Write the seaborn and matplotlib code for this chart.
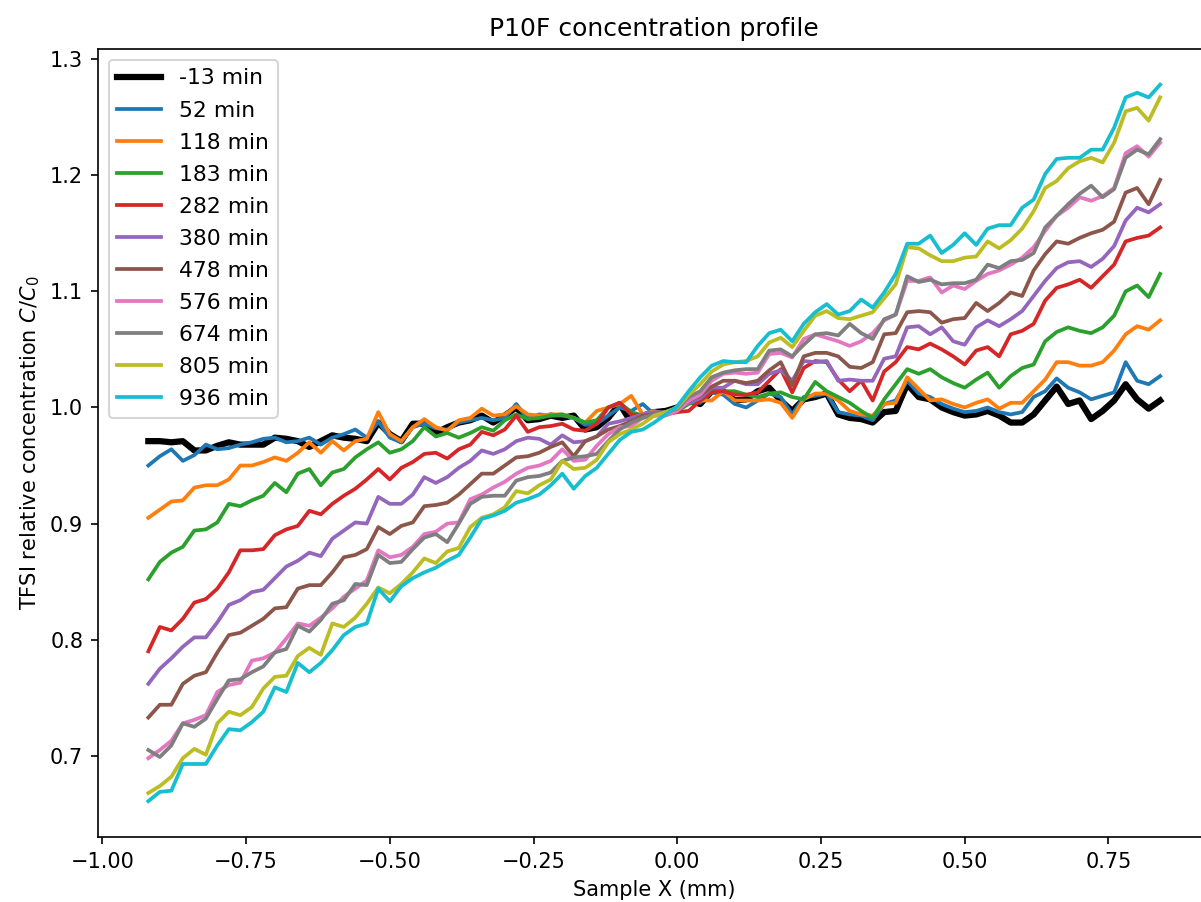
import numpy as np
import pandas as pd
import matplotlib
matplotlib.use("Agg")
import matplotlib.pyplot as plt
import seaborn as sns

# Sample positions (mm)
x_mm = np.linspace(-0.92, 0.84, 89)

labels = ["-13 min", "52 min", "118 min", "183 min", "282 min", "380 min",
          "478 min", "576 min", "674 min", "805 min", "936 min"]

s_m13 = [0.971, 0.971, 0.970, 0.971, 0.963, 0.963, 0.967, 0.970, 0.968, 0.968, 0.968, 0.974, 0.973,
         0.971, 0.966, 0.971, 0.976, 0.974, 0.973, 0.971, 0.987, 0.977, 0.971, 0.986, 0.986, 0.978,
         0.983, 0.987, 0.989, 0.993, 0.987, 0.993, 1.000, 0.989, 0.990, 0.993, 0.991, 0.993, 0.981, 0.983,
         0.991, 1.003, 0.987, 0.993, 0.996, 0.997, 1.000, 1.006, 1.003, 1.014, 1.014, 1.006, 1.007, 1.014,
         1.017, 1.006, 0.997, 1.007, 1.009, 1.012, 0.994, 0.991, 0.990, 0.987, 0.996, 0.997, 1.020, 1.009, 1.007,
         1.000, 0.996, 0.993, 0.994, 0.997, 0.993, 0.987, 0.987, 0.994, 1.006,
         1.018, 1.003, 1.006, 0.990, 0.997, 1.006, 1.020, 1.007, 0.999, 1.006]
s_52 = [0.950, 0.958, 0.964, 0.954, 0.959, 0.968, 0.964, 0.965, 0.968, 0.970, 0.973, 0.974, 0.970,
        0.971, 0.974, 0.968, 0.974, 0.977, 0.981, 0.974, 0.988, 0.974, 0.970, 0.983, 0.986, 0.982,
        0.981, 0.987, 0.989, 0.991, 0.989, 0.991, 1.003, 0.990, 0.994, 0.993, 0.993, 0.991, 0.985, 0.986,
        0.993, 1.000, 0.997, 1.003, 0.994, 0.996, 1.000, 1.006, 1.004, 1.013, 1.011, 1.003, 1.000, 1.006,
        1.012, 1.009, 0.994, 1.009, 1.010, 1.012, 0.996, 0.994, 0.993, 0.989, 1.003, 1.006, 1.023, 1.012, 1.009,
        1.003, 0.999, 0.996, 0.997, 1.000, 0.996, 0.994, 0.996, 1.009, 1.014,
        1.025, 1.017, 1.013, 1.007, 1.010, 1.013, 1.039, 1.023, 1.020, 1.027]
s_118 = [0.905, 0.912, 0.919, 0.920, 0.931, 0.933, 0.933, 0.938, 0.950, 0.950, 0.953, 0.957, 0.954,
         0.961, 0.970, 0.961, 0.971, 0.963, 0.971, 0.973, 0.996, 0.977, 0.971, 0.983, 0.990, 0.983,
         0.980, 0.989, 0.991, 0.999, 0.993, 0.994, 1.001, 0.994, 0.993, 0.994, 0.994, 0.991, 0.987, 0.997,
         1.000, 1.003, 1.010, 0.994, 0.997, 0.994, 0.997, 1.004, 1.006, 1.006, 1.014, 1.006, 1.006, 1.006,
         1.007, 1.004, 0.991, 1.007, 1.012, 1.012, 1.006, 0.997, 0.994, 0.993, 1.003, 1.004, 1.026, 1.016, 1.006,
         1.007, 1.003, 1.000, 1.004, 1.007, 0.999, 1.004, 1.004, 1.014, 1.024,
         1.039, 1.039, 1.036, 1.036, 1.039, 1.049, 1.063, 1.070, 1.067, 1.075]
s_183 = [0.852, 0.867, 0.875, 0.880, 0.894, 0.895, 0.901, 0.917, 0.915, 0.920, 0.924, 0.935, 0.927,
         0.943, 0.947, 0.933, 0.944, 0.947, 0.957, 0.964, 0.970, 0.961, 0.964, 0.971, 0.983, 0.975,
         0.978, 0.974, 0.978, 0.983, 0.980, 0.989, 0.994, 0.990, 0.991, 0.993, 0.994, 0.991, 0.987, 0.989,
         1.000, 1.004, 0.996, 0.993, 0.994, 0.996, 0.997, 1.003, 1.006, 1.014, 1.014, 1.014, 1.011, 1.009,
         1.012, 1.013, 1.009, 1.007, 1.022, 1.014, 1.009, 1.004, 0.997, 0.991, 1.007, 1.020, 1.033, 1.029, 1.033,
         1.026, 1.021, 1.017, 1.024, 1.030, 1.017, 1.027, 1.034, 1.037, 1.057,
         1.065, 1.069, 1.066, 1.064, 1.069, 1.079, 1.100, 1.105, 1.095, 1.115]
s_282 = [0.790, 0.811, 0.808, 0.818, 0.832, 0.835, 0.844, 0.858, 0.877, 0.877, 0.878, 0.890, 0.895,
         0.898, 0.911, 0.908, 0.917, 0.924, 0.930, 0.938, 0.947, 0.938, 0.948, 0.953, 0.960, 0.961,
         0.956, 0.964, 0.968, 0.979, 0.976, 0.981, 0.993, 0.979, 0.983, 0.984, 0.986, 0.981, 0.980, 0.986,
         1.000, 1.004, 0.994, 0.993, 0.993, 0.994, 0.996, 0.997, 1.006, 1.013, 1.014, 1.011, 1.011, 1.013,
         1.023, 1.033, 1.013, 1.034, 1.040, 1.039, 1.024, 1.014, 1.023, 1.006, 1.031, 1.039, 1.052, 1.050, 1.055,
         1.050, 1.044, 1.037, 1.049, 1.052, 1.044, 1.063, 1.066, 1.072, 1.092,
         1.103, 1.106, 1.110, 1.103, 1.113, 1.123, 1.143, 1.146, 1.148, 1.155]
s_380 = [0.762, 0.775, 0.784, 0.794, 0.802, 0.802, 0.815, 0.830, 0.834, 0.841, 0.843, 0.853, 0.863,
         0.868, 0.875, 0.872, 0.887, 0.894, 0.901, 0.900, 0.923, 0.917, 0.917, 0.925, 0.940, 0.935,
         0.940, 0.948, 0.954, 0.963, 0.960, 0.964, 0.971, 0.974, 0.973, 0.968, 0.976, 0.970, 0.971, 0.975,
         0.986, 0.988, 0.991, 0.994, 0.996, 0.996, 0.999, 1.004, 1.008, 1.017, 1.017, 1.023, 1.020, 1.020,
         1.029, 1.032, 1.023, 1.040, 1.039, 1.040, 1.023, 1.024, 1.023, 1.023, 1.042, 1.044, 1.069, 1.070, 1.063,
         1.069, 1.057, 1.054, 1.069, 1.075, 1.070, 1.076, 1.083, 1.096, 1.109,
         1.120, 1.125, 1.126, 1.121, 1.128, 1.139, 1.161, 1.172, 1.168, 1.175]
s_478 = [0.733, 0.744, 0.744, 0.762, 0.769, 0.772, 0.789, 0.804, 0.806, 0.812, 0.818, 0.827, 0.828,
         0.844, 0.847, 0.847, 0.858, 0.871, 0.873, 0.878, 0.897, 0.891, 0.898, 0.901, 0.915, 0.916,
         0.918, 0.925, 0.934, 0.943, 0.943, 0.950, 0.957, 0.958, 0.961, 0.966, 0.970, 0.958, 0.971, 0.975,
         0.981, 0.984, 0.988, 0.993, 0.994, 0.996, 0.999, 1.006, 1.010, 1.018, 1.023, 1.023, 1.021, 1.023,
         1.032, 1.039, 1.019, 1.044, 1.047, 1.047, 1.044, 1.035, 1.034, 1.039, 1.063, 1.064, 1.082, 1.083, 1.082,
         1.073, 1.076, 1.077, 1.090, 1.083, 1.090, 1.099, 1.096, 1.118, 1.132,
         1.143, 1.141, 1.146, 1.150, 1.153, 1.160, 1.185, 1.189, 1.175, 1.196]
s_576 = [0.698, 0.705, 0.713, 0.728, 0.731, 0.735, 0.755, 0.761, 0.763, 0.782, 0.784, 0.789, 0.801,
         0.814, 0.812, 0.819, 0.827, 0.837, 0.844, 0.851, 0.877, 0.871, 0.873, 0.880, 0.891, 0.893,
         0.900, 0.901, 0.921, 0.925, 0.931, 0.936, 0.943, 0.948, 0.950, 0.954, 0.964, 0.954, 0.955, 0.967,
         0.977, 0.983, 0.984, 0.991, 0.993, 0.993, 0.997, 1.006, 1.011, 1.023, 1.029, 1.030, 1.029, 1.030,
         1.046, 1.047, 1.043, 1.059, 1.063, 1.060, 1.057, 1.053, 1.057, 1.064, 1.075, 1.080, 1.109, 1.109, 1.112,
         1.099, 1.105, 1.102, 1.109, 1.115, 1.118, 1.123, 1.129, 1.138, 1.152,
         1.165, 1.172, 1.181, 1.178, 1.182, 1.189, 1.219, 1.225, 1.216, 1.228]
s_674 = [0.705, 0.699, 0.709, 0.728, 0.725, 0.732, 0.749, 0.765, 0.766, 0.772, 0.777, 0.789, 0.792,
         0.812, 0.807, 0.817, 0.831, 0.834, 0.848, 0.847, 0.873, 0.866, 0.867, 0.878, 0.888, 0.891,
         0.884, 0.900, 0.917, 0.923, 0.924, 0.924, 0.937, 0.940, 0.941, 0.944, 0.954, 0.957, 0.958, 0.960,
         0.971, 0.981, 0.987, 0.991, 0.994, 0.996, 0.999, 1.009, 1.014, 1.026, 1.030, 1.032, 1.033, 1.033,
         1.049, 1.050, 1.044, 1.054, 1.063, 1.064, 1.062, 1.072, 1.064, 1.059, 1.076, 1.080, 1.113, 1.108, 1.110,
         1.106, 1.107, 1.107, 1.110, 1.123, 1.120, 1.126, 1.127, 1.133, 1.155,
         1.165, 1.175, 1.184, 1.191, 1.181, 1.188, 1.215, 1.222, 1.218, 1.231]
s_805 = [0.668, 0.674, 0.682, 0.698, 0.706, 0.701, 0.728, 0.738, 0.735, 0.742, 0.758, 0.768, 0.769,
         0.786, 0.793, 0.787, 0.814, 0.811, 0.819, 0.831, 0.845, 0.840, 0.848, 0.858, 0.870, 0.866,
         0.876, 0.879, 0.897, 0.905, 0.908, 0.914, 0.928, 0.926, 0.933, 0.938, 0.954, 0.947, 0.948, 0.955,
         0.970, 0.977, 0.981, 0.986, 0.993, 0.996, 1.000, 1.011, 1.020, 1.031, 1.037, 1.039, 1.040, 1.044,
         1.056, 1.060, 1.052, 1.066, 1.079, 1.083, 1.077, 1.076, 1.079, 1.082, 1.094, 1.106, 1.138, 1.137, 1.131,
         1.126, 1.126, 1.129, 1.130, 1.143, 1.137, 1.144, 1.154, 1.169, 1.189,
         1.195, 1.206, 1.212, 1.215, 1.211, 1.228, 1.255, 1.258, 1.247, 1.267]
s_936 = [0.661, 0.669, 0.670, 0.693, 0.693, 0.693, 0.709, 0.723, 0.722, 0.729, 0.738, 0.759, 0.755,
         0.780, 0.772, 0.780, 0.791, 0.804, 0.811, 0.814, 0.844, 0.833, 0.846, 0.853, 0.858, 0.862,
         0.868, 0.873, 0.888, 0.904, 0.907, 0.911, 0.918, 0.921, 0.925, 0.933, 0.943, 0.930, 0.941, 0.948,
         0.960, 0.972, 0.979, 0.981, 0.987, 0.994, 1.001, 1.014, 1.026, 1.036, 1.040, 1.039, 1.039, 1.053,
         1.064, 1.067, 1.057, 1.072, 1.082, 1.089, 1.080, 1.083, 1.093, 1.086, 1.099, 1.115, 1.141, 1.141, 1.148,
         1.133, 1.140, 1.150, 1.140, 1.154, 1.157, 1.157, 1.172, 1.179, 1.201,
         1.214, 1.215, 1.215, 1.222, 1.222, 1.241, 1.267, 1.271, 1.267, 1.278]

series = [s_m13, s_52, s_118, s_183, s_282, s_380, s_478, s_576, s_674, s_805, s_936]
colors = ["black"] + [f"C{i}" for i in range(10)]

DPI = 150
fig = plt.figure(figsize=(1201 / DPI, 902 / DPI), dpi=DPI)
ax = fig.add_axes([0.0814, 0.0721, 0.9267, 0.8738])

for lab, vals, col in zip(labels, series, colors):
    df = pd.DataFrame({"x": x_mm, "y": vals})
    sns.lineplot(data=df, x="x", y="y", ax=ax, color=col,
                 linewidth=3.0 if lab == "-13 min" else 1.8,
                 label=lab, estimator=None, sort=False)

ax.set_title("P10F concentration profile")
ax.set_xlabel("Sample X (mm)")
ax.set_ylabel("TFSI relative concentration $C/C_0$")
ax.set_xticks([-1.0, -0.75, -0.5, -0.25, 0.0, 0.25, 0.5, 0.75])
ax.set_yticks([0.7, 0.8, 0.9, 1.0, 1.1, 1.2, 1.3])
ax.legend(loc="upper left", fontsize=10.5, labelspacing=0.55)

fig.savefig("out.png", dpi=DPI)
